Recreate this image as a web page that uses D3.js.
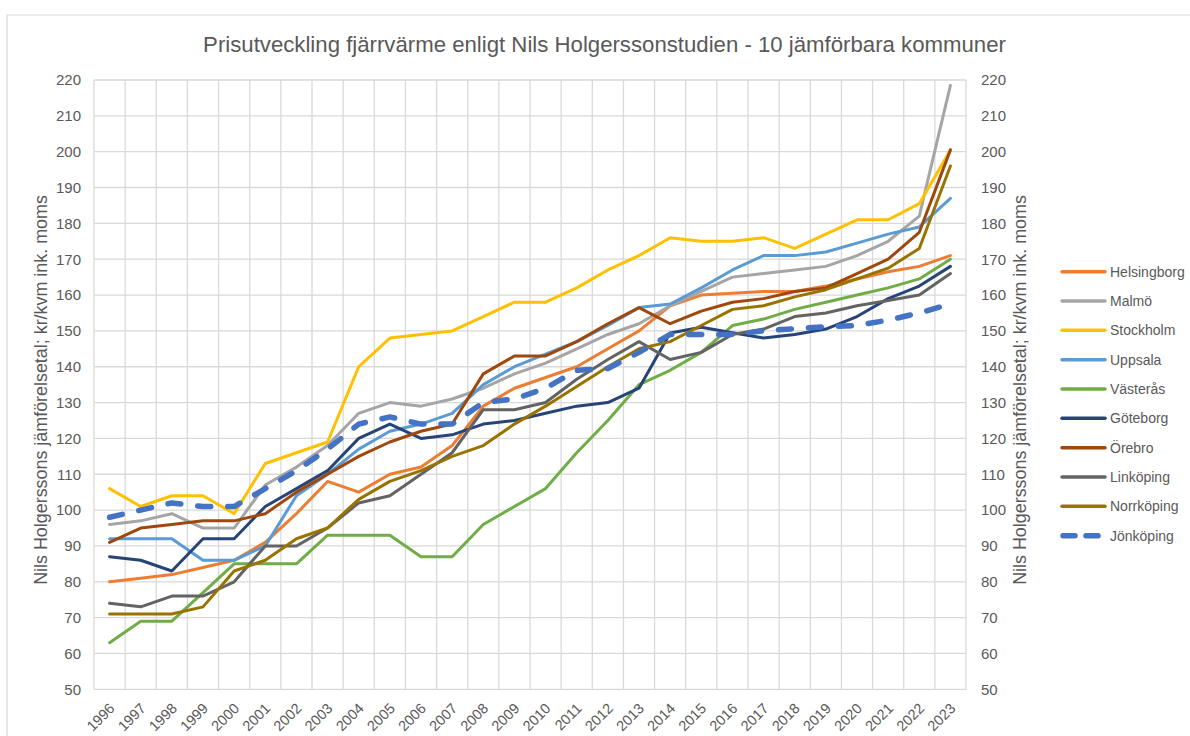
<!DOCTYPE html>
<html>
<head>
<meta charset="utf-8">
<script src="https://cdn.jsdelivr.net/npm/d3@7"></script>
<style>
  html, body { margin: 0; padding: 0; background: #ffffff; }
  svg { display: block; font-family: "Liberation Sans", Arial, sans-serif; }
</style>
</head>
<body>
<svg id="chart" width="1190" height="736"></svg>
<script>
const years = [1996,1997,1998,1999,2000,2001,2002,2003,2004,2005,2006,2007,2008,2009,2010,2011,2012,2013,2014,2015,2016,2017,2018,2019,2020,2021,2022,2023];
const yTicks = [50,60,70,80,90,100,110,120,130,140,150,160,170,180,190,200,210,220];

const seriesNames = ["Helsingborg","Malmö","Stockholm","Uppsala","Västerås","Göteborg","Örebro","Linköping","Norrköping","Jönköping"];
const seriesColors = ["#ED7D31","#A5A5A5","#FFC000","#5B9BD5","#70AD47","#264478","#9E480E","#636363","#997300","#4472C4"];

const helsingborg = [80,81,82,84,86,91,99,108,105,110,112,118,129,134,137,140,145,150,157,160,160.5,161,161,162.5,164.5,166.5,168,171];
const malmo       = [96,97,99,95,95,107,112,118,127,130,129,131,134,138,141,145,149,152,157,161,165,166,167,168,171,175,182,218.5];
const stockholm   = [106,101,104,104,99,113,116,119,140,148,149,150,154,158,158,162,167,171,176,175,175,176,173,177,181,181,185.5,200.5];
const uppsala     = [92,92,92,86,86,90,104,110,117,122,124,127,135,140,143.5,147,151.5,156.5,157.5,162,167,171,171,172,174.5,177,179,187];
const vasteras    = [63,69,69,77,85,85,85,93,93,93,87,87,96,101,106,116,125,135,139,144,151.5,153.3,156,158,160,162,164.5,170];
const goteborg    = [87,86,83,92,92,101,106,111,120,124,120,121,124,125,127,129,130,134,149.4,151,149.5,148,149,150.5,154,159,162.5,168];
const orebro      = [91,95,96,97,97,99,105,110,115,119,122,124,138,143,143,147,152,156.5,152,155.5,158,159,161,162,166,170,177.5,200.5];
const linkoping   = [74,73,76,76,80,90,90,95,102,104,110,116,128,128,130,136.5,142,147,142,144,149,150.5,154,155,157,158.5,160,166];
const norrkoping  = [71,71,71,73,83,86,92,95,103,108,111,115,118,124,129,134.5,140,145,147,151.5,156,157,159.5,161.5,164.5,167.5,173,196];
const jonkoping   = [98,100,102,101,101,106,111,117,124,126,124,124,130,131,134,139,139.5,144,149,149,149,150,150.6,151.2,151.5,153,155,157.5];

const seriesValues = [helsingborg, malmo, stockholm, uppsala, vasteras, goteborg, orebro, linkoping, norrkoping, jonkoping];

const title = "Prisutveckling fjärrvärme enligt Nils Holgerssonstudien - 10 jämförbara kommuner";
const yLabel = "Nils Holgerssons jämförelsetal; kr/kvm ink. moms";

const svg = d3.select("#chart");
const textColor = "#595959";
const gridColor = "#D9D9D9";

const plot = {left: 94, right: 966, top: 80, bottom: 689.3};

const x = d3.scaleBand().domain(years).range([plot.left, plot.right]).padding(0);
const y = d3.scaleLinear().domain([50, 220]).range([plot.bottom, plot.top]);
const cx = d => x(d) + x.bandwidth() / 2;

// chart border (top & left visible)
svg.append("path")
  .attr("d", `M7,${736} L7,15 L1190,15`)
  .attr("fill", "none").attr("stroke", gridColor).attr("stroke-width", 1.2);

// title
const titleText = svg.append("text")
  .attr("x", 604.5).attr("y", 52)
  .attr("text-anchor", "middle")
  .attr("fill", textColor)
  .attr("font-size", 20)
  .text(title);
{
  const w = titleText.node().getComputedTextLength();
  titleText.attr("font-size", 20 * 803 / w);
}

// horizontal gridlines
svg.append("g").selectAll("line").data(yTicks).join("line")
  .attr("x1", plot.left).attr("x2", plot.right)
  .attr("y1", d => y(d)).attr("y2", d => y(d))
  .attr("stroke", gridColor).attr("stroke-width", 1.3);

// vertical gridlines at category boundaries
const bounds = years.map(d => x(d)).concat([plot.right]);
svg.append("g").selectAll("line").data(bounds).join("line")
  .attr("x1", d => d).attr("x2", d => d)
  .attr("y1", plot.top).attr("y2", plot.bottom)
  .attr("stroke", gridColor).attr("stroke-width", 1.3);

// left axis
const yAxisL = svg.append("g")
  .attr("transform", `translate(${plot.left},0)`)
  .call(d3.axisLeft(y).tickValues(yTicks).tickSize(0).tickPadding(13));
yAxisL.select(".domain").remove();
yAxisL.selectAll("text").attr("fill", textColor).attr("font-size", 15).attr("font-family", "Liberation Sans, Arial, sans-serif");

// right axis
const yAxisR = svg.append("g")
  .attr("transform", `translate(${plot.right},0)`)
  .call(d3.axisRight(y).tickValues(yTicks).tickSize(0).tickPadding(15));
yAxisR.select(".domain").remove();
yAxisR.selectAll("text").attr("fill", textColor).attr("font-size", 15).attr("font-family", "Liberation Sans, Arial, sans-serif");

// bottom axis
const xAxis = svg.append("g")
  .attr("transform", `translate(0,${plot.bottom})`)
  .call(d3.axisBottom(x).tickSize(0).tickPadding(0));
xAxis.select(".domain").remove();
xAxis.selectAll("text")
  .attr("fill", textColor).attr("font-size", 14.5)
  .attr("font-family", "Liberation Sans, Arial, sans-serif")
  .attr("text-anchor", "end")
  .attr("dy", 0)
  .attr("y", 0)
  .attr("transform", "translate(6,20) rotate(-45)");

// axis titles
const yl = svg.append("text")
  .attr("transform", `translate(47,390) rotate(-90)`)
  .attr("text-anchor", "middle").attr("fill", textColor).attr("font-size", 15)
  .text(yLabel);
{
  const w = yl.node().getComputedTextLength();
  yl.attr("font-size", 15 * 390 / w);
}
const yr = svg.append("text")
  .attr("transform", `translate(1026,390) rotate(-90)`)
  .attr("text-anchor", "middle").attr("fill", textColor).attr("font-size", 15)
  .text(yLabel);
{
  const w = yr.node().getComputedTextLength();
  yr.attr("font-size", 15 * 390 / w);
}

// lines
const line = d3.line().x((d, i) => cx(years[i])).y(d => y(d));
const linesG = svg.append("g");
seriesValues.forEach((vals, k) => {
  const dashed = seriesNames[k] === "Jönköping";
  linesG.append("path")
    .datum(vals)
    .attr("d", line)
    .attr("fill", "none")
    .attr("stroke", seriesColors[k])
    .attr("stroke-width", dashed ? 5.5 : 3)
    .attr("stroke-linejoin", "round")
    .attr("stroke-linecap", "round")
    .attr("stroke-dasharray", dashed ? "13,17" : null);
});

// legend
const legend = svg.append("g");
seriesNames.forEach((name, k) => {
  const ly = 271.7 + k * 29.33;
  const dashed = name === "Jönköping";
  legend.append("line")
    .attr("x1", dashed ? 1063 : 1062).attr("x2", dashed ? 1098 : 1105)
    .attr("y1", ly).attr("y2", ly)
    .attr("stroke", seriesColors[k])
    .attr("stroke-width", dashed ? 5.5 : 3.5)
    .attr("stroke-linecap", "round")
    .attr("stroke-dasharray", dashed ? "12,11" : null);
  legend.append("text")
    .attr("x", 1110).attr("y", ly + 5)
    .attr("fill", textColor).attr("font-size", 14)
    .text(name);
});
</script>
</body>
</html>
